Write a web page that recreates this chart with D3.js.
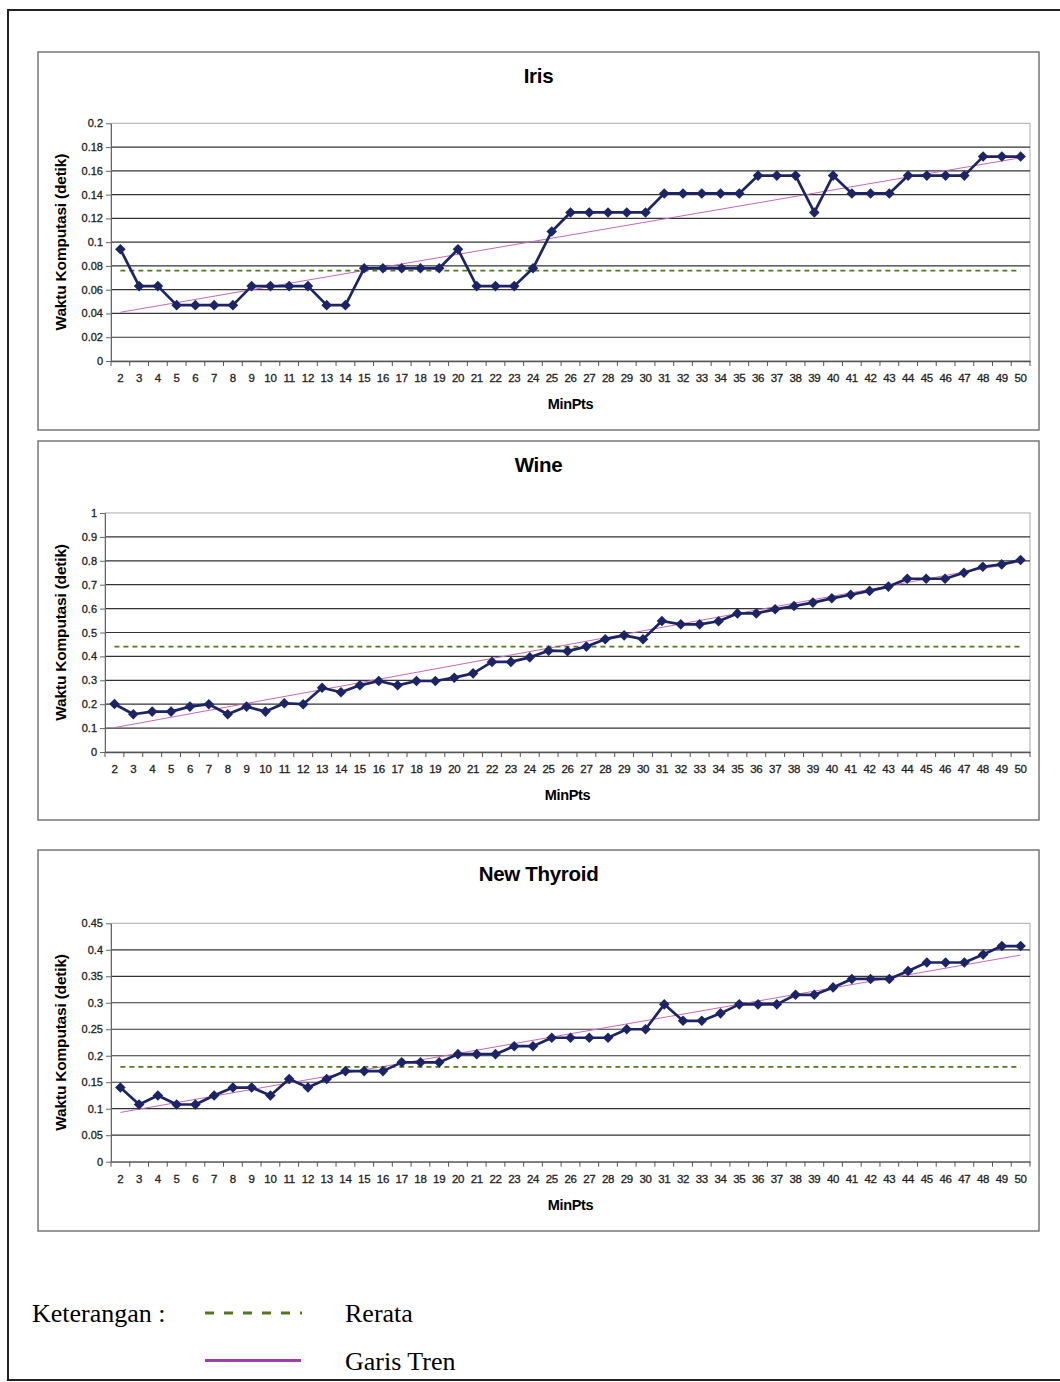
<!DOCTYPE html>
<html>
<head>
<meta charset="utf-8">
<script src="https://cdn.jsdelivr.net/npm/d3@7"></script>
<style>
  body { margin: 0; background: #fff; }
  svg { display: block; }
</style>
</head>
<body>
<div id="chart"></div>
<script>
// MinPts categories on the x axis
const minPts = [2, 3, 4, 5, 6, 7, 8, 9, 10, 11, 12, 13, 14, 15, 16, 17, 18, 19, 20, 21, 22, 23, 24, 25,
  26, 27, 28, 29, 30, 31, 32, 33, 34, 35, 36, 37, 38, 39, 40, 41, 42, 43, 44, 45, 46, 47, 48, 49, 50];

// computation time (seconds)
const irisTime = [0.094, 0.063, 0.063, 0.047, 0.047, 0.047, 0.047, 0.063, 0.063, 0.063, 0.063, 0.047, 0.047,
  0.078, 0.078, 0.078, 0.078, 0.078, 0.094, 0.063, 0.063, 0.063, 0.078, 0.109, 0.125, 0.125, 0.125, 0.125,
  0.125, 0.141, 0.141, 0.141, 0.141, 0.141, 0.156, 0.156, 0.156, 0.125, 0.156, 0.141, 0.141, 0.141, 0.156,
  0.156, 0.156, 0.156, 0.172, 0.172, 0.172];
const wineTime = [0.201, 0.158, 0.169, 0.169, 0.19, 0.2, 0.158, 0.19, 0.169, 0.204, 0.2, 0.269, 0.25,
  0.279, 0.297, 0.279, 0.297, 0.297, 0.311, 0.329, 0.377, 0.377, 0.396, 0.424, 0.422, 0.441, 0.472, 0.488,
  0.472, 0.548, 0.534, 0.534, 0.547, 0.58, 0.58, 0.597, 0.611, 0.625, 0.643, 0.658, 0.674, 0.692, 0.725,
  0.725, 0.725, 0.75, 0.775, 0.785, 0.803];
const thyroidTime = [0.14, 0.108, 0.125, 0.108, 0.108, 0.125, 0.14, 0.14, 0.125, 0.156, 0.14, 0.156, 0.171,
  0.171, 0.171, 0.1875, 0.1875, 0.1875, 0.203, 0.203, 0.203, 0.218, 0.218, 0.234, 0.234, 0.234, 0.234, 0.25,
  0.25, 0.297, 0.266, 0.266, 0.28, 0.297, 0.297, 0.297, 0.315, 0.315, 0.329, 0.345, 0.345, 0.345, 0.36,
  0.376, 0.376, 0.376, 0.391, 0.407, 0.407];

// average (Rerata) and trend line end points (Garis Tren)
const irisMean = 0.076, wineMean = 0.441, thyroidMean = 0.179;
const irisTrend = [0.041, 0.171], wineTrend = [0.102, 0.796], thyroidTrend = [0.093, 0.39];

// y tick labels
const irisTicks = [0, 0.02, 0.04, 0.06, 0.08, 0.1, 0.12, 0.14, 0.16, 0.18, 0.2];
const wineTicks = [0, 0.1, 0.2, 0.3, 0.4, 0.5, 0.6, 0.7, 0.8, 0.9, 1];
const thyroidTicks = [0, 0.05, 0.1, 0.15, 0.2, 0.25, 0.3, 0.35, 0.4, 0.45];

const panels = [
  {title: 'Iris', values: irisTime, mean: irisMean, trend: irisTrend, ticks: irisTicks,
   box: [38, 52, 1039, 430], plot: [111, 123.3, 1030, 361]},
  {title: 'Wine', values: wineTime, mean: wineMean, trend: wineTrend, ticks: wineTicks,
   box: [38, 441, 1039, 820], plot: [105, 513, 1030, 752]},
  {title: 'New Thyroid', values: thyroidTime, mean: thyroidMean, trend: thyroidTrend, ticks: thyroidTicks,
   box: [38, 850, 1039, 1231], plot: [111, 923.3, 1030, 1161.7]}
];

const font = 'Liberation Sans, Arial, sans-serif';
const lineColor = '#1c2466';
const meanColor = '#55781e';
const trendColor = '#c468bd';

const svg = d3.select('#chart').append('svg')
  .attr('width', 1060)
  .attr('height', 1382);

// outer frame (right side runs off the page)
svg.append('rect')
  .attr('x', 8).attr('y', 10)
  .attr('width', 1080).attr('height', 1370)
  .attr('fill', 'none').attr('stroke', '#222').attr('stroke-width', 2);

function drawPanel(p) {
  const [bx0, by0, bx1, by1] = p.box;
  const [left, top, right, bottom] = p.plot;

  const g = svg.append('g');

  g.append('rect')
    .attr('x', bx0).attr('y', by0)
    .attr('width', bx1 - bx0).attr('height', by1 - by0)
    .attr('fill', '#fff').attr('stroke', '#777').attr('stroke-width', 1.5);

  const x = d3.scaleBand()
    .domain(minPts)
    .range([left, right]);

  const y = d3.scaleLinear()
    .domain([0, d3.max(p.ticks)])
    .range([bottom, top]);

  const cx = d => x(d) + x.bandwidth() / 2;

  // plot area border
  g.append('rect')
    .attr('x', left).attr('y', top)
    .attr('width', right - left).attr('height', bottom - top)
    .attr('fill', 'none').attr('stroke', '#aaa').attr('stroke-width', 1);

  // gridlines
  g.selectAll('.grid')
    .data(p.ticks.slice(1, -1))
    .enter()
    .append('line')
    .attr('x1', left).attr('x2', right)
    .attr('y1', d => y(d)).attr('y2', d => y(d))
    .attr('stroke', '#333').attr('stroke-width', 1.2);

  // y axis
  const yAxis = d3.axisLeft(y)
    .tickValues(p.ticks)
    .tickFormat(d => String(+d.toFixed(3)))
    .tickSize(5)
    .tickSizeOuter(0)
    .tickPadding(3);

  const yg = g.append('g')
    .attr('transform', `translate(${left},0)`)
    .call(yAxis);
  yg.select('.domain').attr('stroke', '#666');
  yg.selectAll('.tick line').attr('stroke', '#666');
  yg.selectAll('text').attr('font-family', font).attr('font-size', 11).attr('fill', '#222')
    .attr('stroke', '#222').attr('stroke-width', 0.3);

  // x axis: ticks on band edges
  const xAxis = d3.axisBottom(x)
    .tickSize(0)
    .tickPadding(13)
    .tickSizeOuter(0);

  const xg = g.append('g')
    .attr('transform', `translate(0,${bottom})`)
    .call(xAxis);
  xg.select('.domain').attr('stroke', '#555').attr('stroke-width', 1.3);
  xg.selectAll('text').attr('font-family', font).attr('font-size', 11.5).attr('fill', '#222')
    .attr('stroke', '#222').attr('stroke-width', 0.3)
    .attr('letter-spacing', -0.3);

  g.selectAll('.xtick')
    .data(minPts.concat(['end']))
    .enter()
    .append('line')
    .attr('x1', d => d === 'end' ? right : x(d))
    .attr('x2', d => d === 'end' ? right : x(d))
    .attr('y1', bottom).attr('y2', bottom + 5)
    .attr('stroke', '#555');

  // trend line
  g.append('line')
    .attr('x1', cx(minPts[0])).attr('y1', y(p.trend[0]))
    .attr('x2', cx(minPts[minPts.length - 1])).attr('y2', y(p.trend[1]))
    .attr('stroke', trendColor).attr('stroke-width', 1);

  // mean line
  g.append('line')
    .attr('x1', cx(minPts[0])).attr('y1', y(p.mean))
    .attr('x2', cx(minPts[minPts.length - 1])).attr('y2', y(p.mean))
    .attr('stroke', meanColor).attr('stroke-width', 1.6)
    .attr('stroke-dasharray', '5,4');

  // data series
  const line = d3.line()
    .x((d, i) => cx(minPts[i]))
    .y(d => y(d));

  g.append('path')
    .datum(p.values)
    .attr('d', line)
    .attr('fill', 'none')
    .attr('stroke', lineColor)
    .attr('stroke-width', 2.7)
    .attr('stroke-linejoin', 'round');

  // square diamonds
  g.selectAll('.marker')
    .data(p.values)
    .enter()
    .append('path')
    .attr('d', d3.symbol().type(d3.symbolSquare).size(56))
    .attr('transform', (d, i) => `translate(${cx(minPts[i])},${y(d)}) rotate(45)`)
    .attr('fill', lineColor);

  // titles
  g.append('text')
    .attr('x', (bx0 + bx1) / 2).attr('y', by0 + 26)
    .attr('text-anchor', 'middle').attr('dominant-baseline', 'middle')
    .attr('font-family', font).attr('font-size', 20.5).attr('font-weight', 'bold')
    .attr('letter-spacing', -0.3)
    .text(p.title);

  g.append('text')
    .attr('x', (left + right) / 2).attr('y', bottom + 44)
    .attr('text-anchor', 'middle').attr('dominant-baseline', 'middle')
    .attr('font-family', font).attr('font-size', 14.5).attr('font-weight', 'bold')
    .attr('letter-spacing', -0.3)
    .text('MinPts');

  g.append('text')
    .attr('transform', `translate(62,${(top + bottom) / 2}) rotate(-90)`)
    .attr('text-anchor', 'middle').attr('dominant-baseline', 'middle')
    .attr('font-family', font).attr('font-size', 15.5).attr('font-weight', 'bold')
    .attr('letter-spacing', -0.2)
    .text('Waktu Komputasi (detik)');
}

panels.forEach(drawPanel);

// legend
const legend = svg.append('g').attr('font-family', 'Liberation Serif, Times New Roman, serif');

legend.append('text')
  .attr('x', 32).attr('y', 1322)
  .attr('font-size', 26)
  .text('Keterangan :');

legend.append('line')
  .attr('x1', 205).attr('x2', 302)
  .attr('y1', 1313).attr('y2', 1313)
  .attr('stroke', meanColor).attr('stroke-width', 3)
  .attr('stroke-dasharray', '9,10');

legend.append('text')
  .attr('x', 345).attr('y', 1322)
  .attr('font-size', 26)
  .text('Rerata');

legend.append('line')
  .attr('x1', 205).attr('x2', 301)
  .attr('y1', 1360.5).attr('y2', 1360.5)
  .attr('stroke', '#9b3ea6').attr('stroke-width', 3);

legend.append('text')
  .attr('x', 345).attr('y', 1370)
  .attr('font-size', 26)
  .text('Garis Tren');
</script>
</body>
</html>
